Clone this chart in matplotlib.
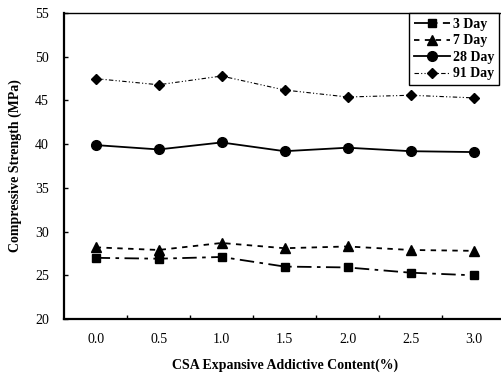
import numpy as np
import matplotlib
matplotlib.use('Agg')
import matplotlib.pyplot as plot

# CSA expansive additive content (%)
content = [0.0, 0.5, 1.0, 1.5, 2.0, 2.5, 3.0]
tick_labels = ['0.0', '0.5', '1.0', '1.5', '2.0', '2.5', '3.0']

# Compressive strength (MPa)
day3 = [27.0, 26.9, 27.1, 26.0, 25.9, 25.3, 25.0]
day7 = [28.2, 27.9, 28.7, 28.1, 28.3, 27.9, 27.8]
day28 = [39.9, 39.4, 40.2, 39.2, 39.6, 39.2, 39.1]
day91 = [47.5, 46.8, 47.8, 46.2, 45.4, 45.6, 45.3]

plot.rcParams['font.family'] = 'Liberation Serif'

fig = plot.figure(figsize=(5.01, 3.74), dpi=100)
ax = fig.add_axes([0.128, 0.147, 0.880, 0.818])

ax.plot(content, day3, color='black', linestyle=(0, (8, 3, 2, 3)), linewidth=1.3,
        marker='s', markersize=6, label='3 Day')
ax.plot(content, day7, color='black', linestyle=(0, (3, 3)), linewidth=1.3,
        marker='^', markersize=6.5, label='7 Day')
ax.plot(content, day28, color='black', linestyle='-', linewidth=1.3,
        marker='o', markersize=7, label='28 Day')
ax.plot(content, day91, color='black', linestyle=(0, (4, 2, 1, 2, 1, 2)), linewidth=0.8,
        marker='D', markersize=5, label='91 Day')

ax.set_xlim(-0.25, 3.25)
ax.set_ylim(20, 55)
ax.set_xticks(content)
ax.set_xticklabels(tick_labels)
ax.set_xticks(np.arange(0.25, 3.0, 0.5), minor=True)
ax.tick_params(axis='x', which='major', length=0, pad=10, labelsize=10)
ax.tick_params(axis='x', which='minor', direction='in', length=3, width=1)
ax.set_yticks(np.arange(20, 56, 5))
ax.tick_params(axis='y', which='major', direction='in', length=3, width=1, pad=11, labelsize=10)

for side in ['left', 'bottom']:
    ax.spines[side].set_linewidth(1.6)
ax.spines['top'].set_linewidth(1.0)
ax.spines['right'].set_visible(False)

ax.set_xlabel('CSA Expansive Addictive Content(%)', fontsize=10, fontweight='bold', labelpad=9)
ax.set_ylabel('Compressive Strength (MPa)', fontsize=10, fontweight='bold', labelpad=9)

leg = ax.legend(loc='upper right', bbox_to_anchor=(0.986, 1.0),
                prop={'weight': 'bold', 'size': 10}, numpoints=1, handlelength=2.6,
                handletextpad=0.2, labelspacing=0.25, borderpad=0.35, borderaxespad=0,
                fancybox=False, edgecolor='black', framealpha=1)
leg.get_frame().set_linewidth(1.0)

plot.savefig('out.png', dpi=100)
